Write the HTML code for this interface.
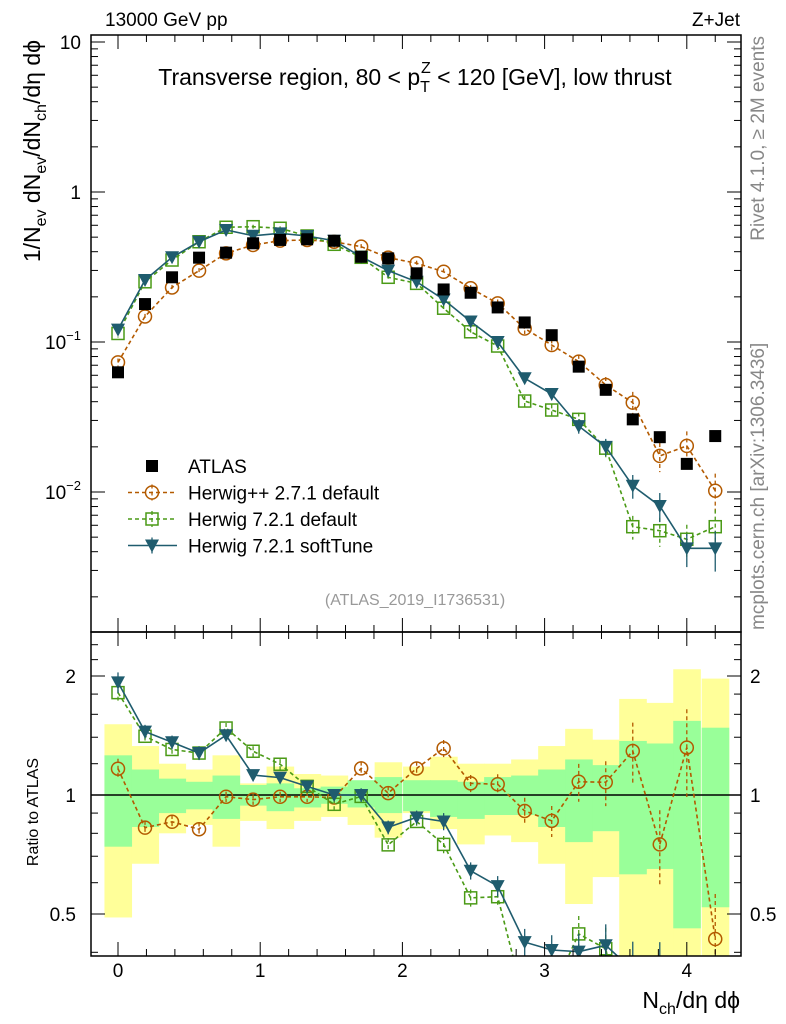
<!DOCTYPE html>
<html><head><meta charset="utf-8"><style>
html,body{margin:0;padding:0;background:#fff;overflow:hidden;width:786px;height:1024px}
svg{display:block}
svg text{font-family:"Liberation Sans",sans-serif}
</style></head><body>
<svg id="c" width="786" height="1024" viewBox="0 0 786 1024" xmlns="http://www.w3.org/2000/svg">
<defs>
<clipPath id="ct"><rect x="91" y="35" width="650" height="597"/></clipPath>
<clipPath id="cb"><rect x="91" y="632" width="650" height="324"/></clipPath>
</defs>
<g id="bands" clip-path="url(#cb)"></g>
<g id="gtop" clip-path="url(#ct)"></g>
<g id="gbot" clip-path="url(#cb)"></g>
<g id="axes"></g>
<text x="105" y="26" font-size="19">13000 GeV pp</text>
<text x="740" y="26" font-size="19" text-anchor="end">Z+Jet</text>
<text x="415" y="85" font-size="23" text-anchor="middle">Transverse region, 80 &lt; p<tspan font-size="16" dy="7">T</tspan><tspan font-size="16" dx="-9" dy="-19">Z</tspan><tspan dy="12"> &lt; 120 [GeV], low thrust</tspan></text>
<text x="415" y="605" font-size="16" fill="#999" text-anchor="middle">(ATLAS_2019_I1736531)</text>
<text transform="translate(764,36) rotate(-90)" font-size="19" fill="#888" text-anchor="end">Rivet 4.1.0, ≥ 2M events</text>
<text transform="translate(764,630) rotate(-90)" font-size="19" fill="#888">mcplots.cern.ch [arXiv:1306.3436]</text>
<text transform="translate(40,40) rotate(-90)" font-size="23" text-anchor="end">1/N<tspan font-size="16" dy="6">ev</tspan><tspan dy="-6"> dN</tspan><tspan font-size="16" dy="6">ev</tspan><tspan dy="-6">/dN</tspan><tspan font-size="16" dy="6">ch</tspan><tspan dy="-6">/dη dϕ</tspan></text>
<text transform="translate(38,812) rotate(-90)" font-size="16" text-anchor="middle">Ratio to ATLAS</text>
<text x="740" y="1008" font-size="23" text-anchor="end">N<tspan font-size="16" dy="6">ch</tspan><tspan dy="-6">/dη dϕ</tspan></text>
<g id="legend"></g>
</svg>
<script>
const xs = [0,0.19,0.38,0.57,0.76,0.95,1.14,1.33,1.52,1.71,1.9,2.1,2.29,2.48,2.67,2.86,3.05,3.24,3.43,3.62,3.81,4.0,4.2];
const atlas = [0.0628,0.179,0.27,0.365,0.394,0.455,0.479,0.484,0.473,0.37,0.361,0.287,0.224,0.213,0.17,0.135,0.111,0.0685,0.048,0.0305,0.0232,0.0154,0.0236];
const herwigpp = [0.0732,0.148,0.231,0.299,0.39,0.443,0.474,0.479,0.466,0.432,0.365,0.335,0.294,0.228,0.181,0.123,0.0955,0.074,0.0517,0.0394,0.0174,0.0203,0.0102];
const herwig721 = [0.114,0.252,0.352,0.466,0.582,0.587,0.573,0.509,0.448,0.367,0.27,0.246,0.168,0.117,0.094,0.0404,0.0352,0.0305,0.0196,0.00587,0.00552,0.00484,0.00587];
const softTune = [0.121,0.259,0.367,0.466,0.558,0.511,0.53,0.509,0.473,0.37,0.299,0.252,0.192,0.137,0.1,0.0573,0.045,0.0275,0.02,0.011,0.00807,0.00421,0.00421];
const relErr = [0.06,0.04,0.04,0.04,0.03,0.03,0.03,0.03,0.03,0.04,0.04,0.04,0.05,0.05,0.06,0.08,0.09,0.11,0.13,0.18,0.22,0.25,0.3];
const yellowHi = [1.51,1.33,1.20,1.16,1.26,1.07,1.18,1.13,1.12,1.07,1.21,1.18,1.25,1.20,1.20,1.23,1.33,1.47,1.38,1.75,1.71,2.08,1.97];
const yellowLo = [0.49,0.67,0.80,0.84,0.74,0.86,0.82,0.86,0.88,0.84,0.78,0.90,0.82,0.75,0.79,0.76,0.67,0.53,0.62,0.3,0.3,0.3,0.3];
const greenHi = [1.26,1.16,1.10,1.08,1.12,1.06,1.07,1.04,1.05,1.09,1.11,1.09,1.09,1.08,1.11,1.12,1.16,1.23,1.19,1.37,1.35,1.54,1.48];
const greenLo = [0.74,0.83,0.90,0.92,0.87,0.94,0.91,0.93,0.95,0.93,0.90,0.91,0.88,0.87,0.89,0.89,0.83,0.76,0.81,0.63,0.65,0.46,0.52];
const xTicks = ["0","1","2","3","4"];

const NS="http://www.w3.org/2000/svg";
const X = v => 118 + v*142.2;
const YT = v => 192 - 150*Math.log10(v);
const YB = r => 795 - 119*Math.log2(r);
function mk(tag, attrs, parent){const e=document.createElementNS(NS,tag);for(const k in attrs)e.setAttribute(k,attrs[k]);parent.appendChild(e);return e;}
const gtop=document.getElementById('gtop'), gbot=document.getElementById('gbot'), bands=document.getElementById('bands'), axes=document.getElementById('axes'), leg=document.getElementById('legend');

const hw = 0.0953;
xs.forEach((x,i)=>{
  let r=mk('rect',{x:X(x-hw),y:YB(yellowHi[i]),width:X(x+hw)-X(x-hw)+0.5,height:YB(yellowLo[i])-YB(yellowHi[i]),fill:'#ffff99'},bands);
  
  
});
xs.forEach((x,i)=>{
  let r=mk('rect',{x:X(x-hw),y:YB(greenHi[i]),width:X(x+hw)-X(x-hw)+0.5,height:YB(greenLo[i])-YB(greenHi[i]),fill:'#99ff99'},bands);
  
  
});
mk('line',{x1:91,x2:741,y1:YB(1),y2:YB(1),stroke:'#000','stroke-width':1.5},gbot);

function marker(type,cx,cy,col,g){
  let m;
  if(type==='sq') m=mk('rect',{x:cx-6,y:cy-6,width:12,height:12,fill:col},g);
  else if(type==='circ') m=mk('circle',{cx:cx,cy:cy,r:6.5,fill:'none',stroke:col,'stroke-width':1.5},g);
  else if(type==='osq') m=mk('rect',{x:cx-6,y:cy-6,width:12,height:12,fill:'none',stroke:col,'stroke-width':1.5},g);
  else m=mk('polygon',{points:`${cx-7},${cy-6} ${cx+7},${cy-6} ${cx},${cy+7}`,fill:col},g);
  return m;
}
function series(vals,col,type,dash,name){
  [[gtop,vals.map(v=>v),YT],[gbot,vals.map((v,i)=>v/atlas[i]),YB]].forEach(([g,arr,Y])=>{
    const pts=arr.map((v,i)=>X(xs[i])+','+Y(v)).join(' ');
    let l=mk('polyline',{points:pts,fill:'none',stroke:col,'stroke-width':1.6,'stroke-dasharray':dash},g);
    
    
    arr.forEach((v,i)=>{
      const e=relErr[i], x=X(xs[i]);
      let b=mk('line',{x1:x,x2:x,y1:Y(v*(1+e)),y2:Y(Math.max(v*(1-e),1e-6)),stroke:col,'stroke-width':1.3,'stroke-dasharray':dash},g);
      
      
      let m=marker(type,x,Y(v),col,g);
      
      
    });
  });
}
series(herwigpp,'#b35a00','circ','4,3','herwigpp-271');
series(herwig721,'#4a9a16','osq','4,3','herwig-721-default');
series(softTune,'#1f5c6e','tri','','herwig-721-softtune');
atlas.forEach((v,i)=>{
  let m=marker('sq',X(xs[i]),YT(v),'#000',gtop);
  
  
});

[[35,632],[632,956]].forEach(([t,b])=>{
  let f=mk('rect',{x:91,y:t,width:650,height:b-t,fill:'none',stroke:'#000','stroke-width':1.5},axes);
  
  
  for(let k=-0.2;k<=4.41;k+=0.2){
    const x=X(k); if(x<91||x>741) continue;
    const major=Math.abs(k-Math.round(k))<0.01;
    const L=major?14:7;
    mk('line',{x1:x,x2:x,y1:b,y2:b-L,stroke:'#000'},axes);
    mk('line',{x1:x,x2:x,y1:t,y2:t+L,stroke:'#000'},axes);
  }
});
xTicks.forEach((s,i)=>{
  let t=mk('text',{x:X(i),y:977,'font-size':19,'text-anchor':'middle'},axes);t.textContent=s;
  
  
});
for(let d=-3;d<=1;d++){for(let m=1;m<10;m++){const v=m*Math.pow(10,d);const y=YT(v);if(y<35||y>632)continue;const L=m===1?14:7;
  mk('line',{x1:91,x2:91+L,y1:y,y2:y,stroke:'#000'},axes);mk('line',{x1:741,x2:741-L,y1:y,y2:y,stroke:'#000'},axes);}}
[["10",10],["1",1]].forEach(([s,v])=>{let t=mk('text',{x:81,y:YT(v)+7,'font-size':19,'text-anchor':'end'},axes);t.textContent=s;
  
  });
[["−1",0.1],["−2",0.01]].forEach(([s,v])=>{let t=mk('text',{x:81,y:YT(v)+7,'font-size':19,'text-anchor':'end'},axes);
  t.innerHTML='10<tspan font-size="13" dy="-9">'+s+'</tspan>';
  
  });
[0.4,0.5,0.6,0.7,0.8,0.9,1,1.2,1.4,1.6,1.8,2,2.2,2.4].forEach(r=>{const y=YB(r);const major=(r===0.5||r===1||r===2);const L=major?14:7;
  mk('line',{x1:91,x2:91+L,y1:y,y2:y,stroke:'#000'},axes);mk('line',{x1:741,x2:741-L,y1:y,y2:y,stroke:'#000'},axes);});
[["2",2],["1",1],["0.5",0.5]].forEach(([s,v])=>{
  let t=mk('text',{x:76,y:YB(v)+7,'font-size':19,'text-anchor':'end'},axes);t.textContent=s;
  
  
  let t2=mk('text',{x:750,y:YB(v)+7,'font-size':19},axes);t2.textContent=s;
  
  
});
const legItems=[["ATLAS",'#000','sq',''],["Herwig++ 2.7.1 default",'#b35a00','circ','4,3'],["Herwig 7.2.1 default",'#4a9a16','osq','4,3'],["Herwig 7.2.1 softTune",'#1f5c6e','tri','']];
legItems.forEach(([lab,col,type,dash],i)=>{
  const y=466+i*26.5;
  const g=mk('g',{},leg);
  
  
  if(i>0){mk('line',{x1:128,x2:177,y1:y,y2:y,stroke:col,'stroke-width':1.6,'stroke-dasharray':dash},g);
    mk('line',{x1:152,x2:152,y1:y-8,y2:y+8,stroke:col,'stroke-width':1.3,'stroke-dasharray':dash},g);}
  marker(type,152,y,col,g);
  const t=mk('text',{x:188,y:y+7,'font-size':19},g);t.textContent=lab;
});
</script>
</body></html>
